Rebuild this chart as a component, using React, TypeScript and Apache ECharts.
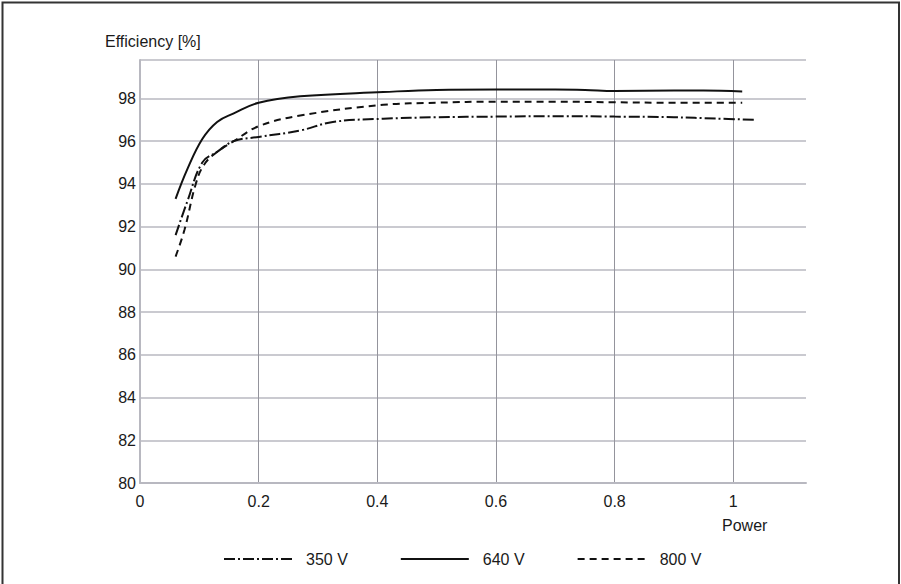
import React, { useEffect, useRef } from "react";
import * as echarts from "echarts";

const seriesNames = ["350 V", "640 V", "800 V"];

const power350 = [0.06, 0.08, 0.105, 0.13, 0.158, 0.2, 0.27, 0.325, 0.41, 0.5, 0.6, 0.7, 0.8, 0.9, 0.97, 1.037];
const eff350 = [91.6, 93.2, 95.0, 95.5, 96.0, 96.2, 96.5, 96.9, 97.05, 97.12, 97.15, 97.17, 97.15, 97.12, 97.06, 97.0];

const power640 = [0.06, 0.08, 0.105, 0.13, 0.158, 0.2, 0.27, 0.41, 0.5, 0.6, 0.7, 0.75, 0.8, 0.9, 0.95, 1.015];
const eff640 = [93.3, 94.7, 96.1, 96.9, 97.3, 97.8, 98.1, 98.3, 98.4, 98.42, 98.42, 98.4, 98.35, 98.37, 98.37, 98.33];

const power800 = [0.06, 0.075, 0.094, 0.108, 0.13, 0.158, 0.2, 0.27, 0.41, 0.5, 0.6, 0.7, 0.8, 0.9, 1.015];
const eff800 = [90.6, 91.85, 94.0, 94.9, 95.5, 96.0, 96.7, 97.2, 97.7, 97.8, 97.85, 97.85, 97.82, 97.8, 97.8];

const yTicks = [80, 82, 84, 86, 88, 90, 92, 94, 96, 98];
const xTicks = [0, 0.2, 0.4, 0.6, 0.8, 1];

const FONT = "'Liberation Sans', Arial, sans-serif";

function pairs(xs: number[], ys: number[]) {
  return xs.map((x, i) => [x, ys[i]]);
}

export default function App() {
  const ref = useRef<HTMLDivElement>(null);
  useEffect(() => {
    if (!ref.current) return;
    const chart = echarts.init(ref.current, undefined, { renderer: "svg" });
    const lineBase = {
      type: "line",
      showSymbol: false,
      symbol: "none",
      smooth: 0.4,
    };
    chart.setOption({
      animation: false,
      backgroundColor: "#ffffff",
      textStyle: { fontFamily: FONT },
      grid: { left: 140, top: 60, right: 95, bottom: 101 },
      xAxis: {
        type: "value",
        min: 0,
        max: 1.1225,
        interval: 0.2,
        axisLine: { show: true, lineStyle: { color: "#b8b8c0", width: 2 } },
        axisTick: { show: false },
        axisLabel: {
          color: "#1a1a1a",
          fontSize: 16,
          margin: 10,
          fontFamily: FONT,
          formatter: (v: number) => {
            const t = xTicks.find((k) => Math.abs(k - v) < 1e-6);
            return t === undefined ? "" : String(t);
          },
        },
        splitLine: {
          show: true,
          showMinLine: false,
          showMaxLine: false,
          lineStyle: { color: "#94949c", width: 1 },
        },
      },
      yAxis: {
        type: "value",
        min: 80,
        max: 99.8,
        interval: 2,
        axisLine: { show: true, lineStyle: { color: "#b8b8c0", width: 2 } },
        axisTick: { show: false },
        axisLabel: {
          color: "#1a1a1a",
          fontSize: 16,
          margin: 4,
          fontFamily: FONT,
          formatter: (v: number) => {
            const t = yTicks.find((k) => Math.abs(k - v) < 1e-6);
            return t === undefined ? "" : String(t);
          },
        },
        splitLine: {
          show: true,
          showMinLine: false,
          lineStyle: { color: "#b8b8c0", width: 1.5 },
        },
      },
      legend: {
        left: 223,
        top: 551,
        padding: 0,
        itemWidth: 68,
        itemHeight: 14,
        itemGap: 52,
        data: seriesNames,
        itemStyle: {
          color: "transparent",
          borderColor: "transparent",
          borderWidth: 0,
          opacity: 0,
        },
        textStyle: {
          color: "#1a1a1a",
          fontSize: 16,
          fontFamily: FONT,
          padding: [0, 0, 0, 9],
        },
      },
      graphic: [
        {
          type: "rect",
          silent: true,
          shape: { x: 2.5, y: 2.5, width: 896.5, height: 640 },
          style: { fill: "none", stroke: "#333333", lineWidth: 2 },
        },
        {
          type: "text",
          left: 105,
          top: 33,
          style: { text: "Efficiency [%]", fill: "#1a1a1a", font: `16px ${FONT}` },
        },
        {
          type: "text",
          left: 722,
          top: 517,
          style: { text: "Power", fill: "#1a1a1a", font: `16px ${FONT}` },
        },
      ],
      series: [
        {
          ...lineBase,
          name: seriesNames[0],
          data: pairs(power350, eff350),
          lineStyle: { color: "#111111", width: 2, type: [11, 3, 2, 3] },
          itemStyle: { color: "#111111" },
        },
        {
          ...lineBase,
          name: seriesNames[1],
          data: pairs(power640, eff640),
          lineStyle: { color: "#111111", width: 2, type: "solid" },
          itemStyle: { color: "#111111" },
        },
        {
          ...lineBase,
          name: seriesNames[2],
          data: pairs(power800, eff800),
          lineStyle: { color: "#111111", width: 2, type: [7, 5] },
          itemStyle: { color: "#111111" },
        },
      ],
    });
    return () => chart.dispose();
  }, []);
  return (
    <div
      ref={ref}
      style={{ position: "absolute", left: 0, top: 0, width: 901, height: 584 }}
    />
  );
}
